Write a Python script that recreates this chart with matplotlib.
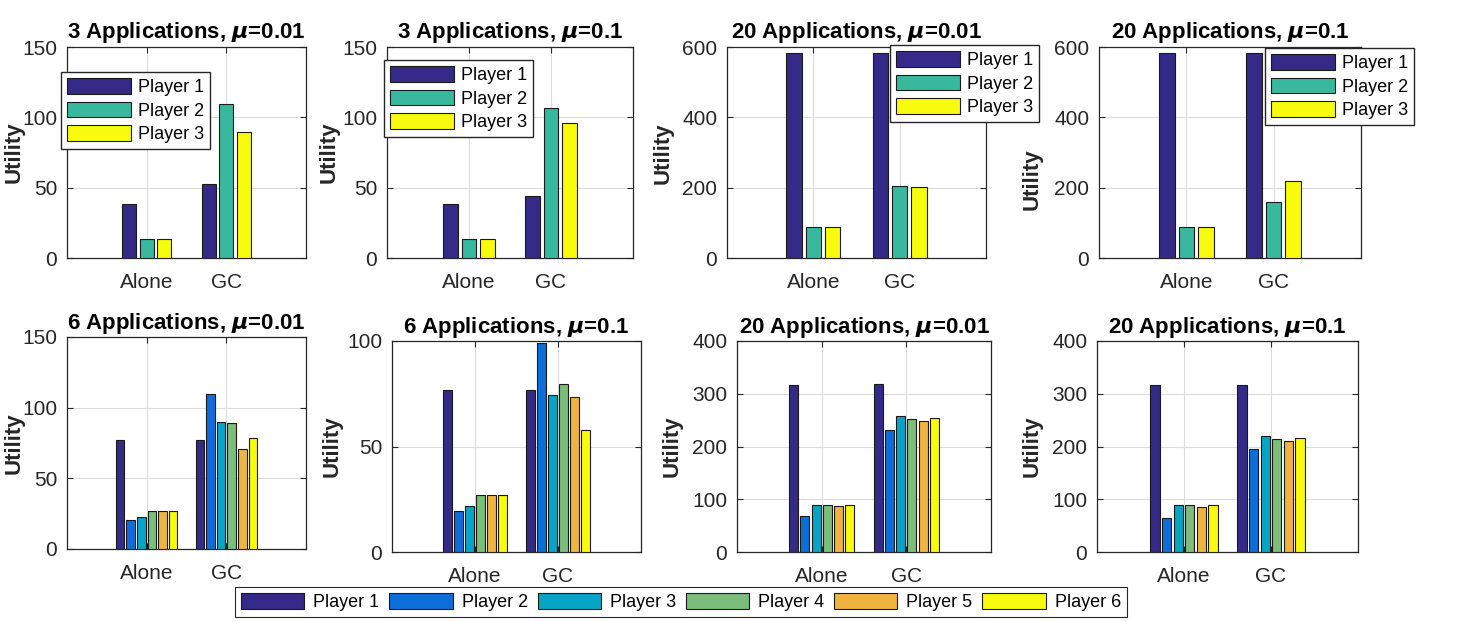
import matplotlib
matplotlib.use("Agg")
import matplotlib.pyplot as plt
import numpy as np

plt.rcParams['font.family'] = ['Liberation Sans', 'DejaVu Sans']

W, H = 1467, 621

groups = ["Alone", "GC"]
players3 = ["Player 1", "Player 2", "Player 3"]
players6 = ["Player 1", "Player 2", "Player 3", "Player 4", "Player 5", "Player 6"]
colors3 = ["#352A87", "#38B99E", "#F9FB0E"]
colors6 = ["#352A87", "#0D6EDA", "#06A5C5", "#7BBE7B", "#EFB440", "#F9FB0E"]

# values: rows = groups (Alone, GC), cols = players
apps3_mu001 = [[38.2, 13.2, 13.2], [52.6, 109.8, 89.6]]
apps3_mu01 = [[38.2, 13.2, 13.2], [43.8, 106.9, 95.7]]
apps20a_mu001 = [[584, 89, 89], [584, 205, 202]]
apps20a_mu01 = [[584, 88, 88], [584, 159, 220]]
apps6_mu001 = [[76.8, 20.6, 22.3, 27.0, 27.0, 27.0], [76.8, 109.7, 89.6, 88.9, 70.6, 78.7]]
apps6_mu01 = [[76.8, 19.4, 21.6, 27.0, 27.0, 27.0], [76.8, 99.0, 74.3, 79.5, 73.5, 58.0]]
apps20b_mu001 = [[317, 68, 90, 90, 86.5, 90], [318, 230.6, 258, 252, 247.6, 254.6]]
apps20b_mu01 = [[317, 65, 90, 90, 86, 90], [317, 196, 220.5, 215, 211, 217]]

panels = [
    # title, mu, data, ymax, yticks, rect px (l, t, r, b), ylabel pos (axes frac), legend px
    ("3 Applications, ", "0.01", apps3_mu001, 150, [0, 50, 100, 150], (67, 47, 306, 258), (-0.176, 0.5), (61, 72)),
    ("3 Applications, ", "0.1", apps3_mu01, 150, [0, 50, 100, 150], (387, 47, 633, 258), (-0.191, 0.5), (384, 60)),
    ("20 Applications, ", "0.01", apps20a_mu001, 600, [0, 200, 400, 600], (727, 47, 986, 258), (-0.208, 0.497), (890, 45)),
    ("20 Applications, ", "0.1", apps20a_mu01, 600, [0, 200, 400, 600], (1099, 47, 1361, 258), (-0.214, 0.374), (1265, 48)),
    ("6 Applications, ", "0.01", apps6_mu001, 150, [0, 50, 100, 150], (67, 337, 306, 549), (-0.176, 0.5), None),
    ("6 Applications, ", "0.1", apps6_mu01, 100, [0, 50, 100], (392, 341, 641, 552), (-0.2, 0.5), None),
    ("20 Applications, ", "0.01", apps20b_mu001, 400, [0, 100, 200, 300, 400], (737, 341, 991, 552), (-0.213, 0.5), None),
    ("20 Applications, ", "0.1", apps20b_mu01, 400, [0, 100, 200, 300, 400], (1097, 341, 1358, 552), (-0.207, 0.5), None),
]

fig = plt.figure(figsize=(W / 100, H / 100), dpi=100)

tick_color = "#262626"
handles6 = None
for title, mu, data, ymax, yticks, rect, ylab, leg in panels:
    l, t, r, b = rect
    ax = fig.add_axes([l / W, 1 - b / H, (r - l) / W, (b - t) / H])
    vals = np.array(data, dtype=float)
    n = vals.shape[1]
    names = players3 if n == 3 else players6
    cols = colors3 if n == 3 else colors6
    gw = min(0.8, n / (n + 1.5))
    step = gw / n
    x = np.arange(1, len(groups) + 1)
    bars = []
    for i in range(n):
        off = (i - (n - 1) / 2) * step
        bc = ax.bar(x + off, vals[:, i], width=step * 0.8, color=cols[i],
                    edgecolor="#1a1a1a", linewidth=0.8, label=names[i], zorder=3)
        bars.append(bc)
    if n == 6:
        handles6 = bars
    ax.set_xlim(0, 3)
    ax.set_ylim(0, ymax)
    ax.set_xticks(x)
    ax.set_xticklabels(groups)
    ax.set_yticks(yticks)
    ax.grid(True, color="#dcdcdc", linewidth=0.8, zorder=0)
    ax.set_axisbelow(True)
    ax.tick_params(direction="in", top=True, right=True, length=4, width=0.8,
                   labelsize=15, colors=tick_color, labelcolor=tick_color)
    ax.tick_params(axis="x", pad=11)
    ax.tick_params(axis="y", pad=7)
    for s in ax.spines.values():
        s.set_color(tick_color)
        s.set_linewidth(0.9)
    ax.set_title(title + r"$\boldsymbol{\mu}$=" + mu, fontsize=16, fontweight="bold",
                 pad=6.5 if t < 100 else 5.5)
    ax.set_ylabel("Utility", fontsize=16, fontweight="bold", color=tick_color)
    ax.yaxis.set_label_coords(*ylab)
    if leg is not None:
        ax.legend(loc="upper left", bbox_to_anchor=(leg[0] / W, 1 - leg[1] / H),
                  bbox_transform=fig.transFigure, fontsize=13, frameon=True,
                  fancybox=False, edgecolor="#262626", framealpha=1,
                  handlelength=3.5, handleheight=0.95, handletextpad=0.4,
                  labelspacing=0.3, borderpad=0.35, borderaxespad=0)

lg = fig.legend(handles6, players6, loc="center", ncol=6,
                bbox_to_anchor=(681 / W, 1 - 602 / H), fontsize=13, frameon=True,
                fancybox=False, edgecolor="#262626", framealpha=1,
                handlelength=3.5, handleheight=0.95, handletextpad=0.5,
                columnspacing=0.55, borderpad=0.35)
lg.get_frame().set_linewidth(0.8)

fig.savefig("out.png", dpi=100)
